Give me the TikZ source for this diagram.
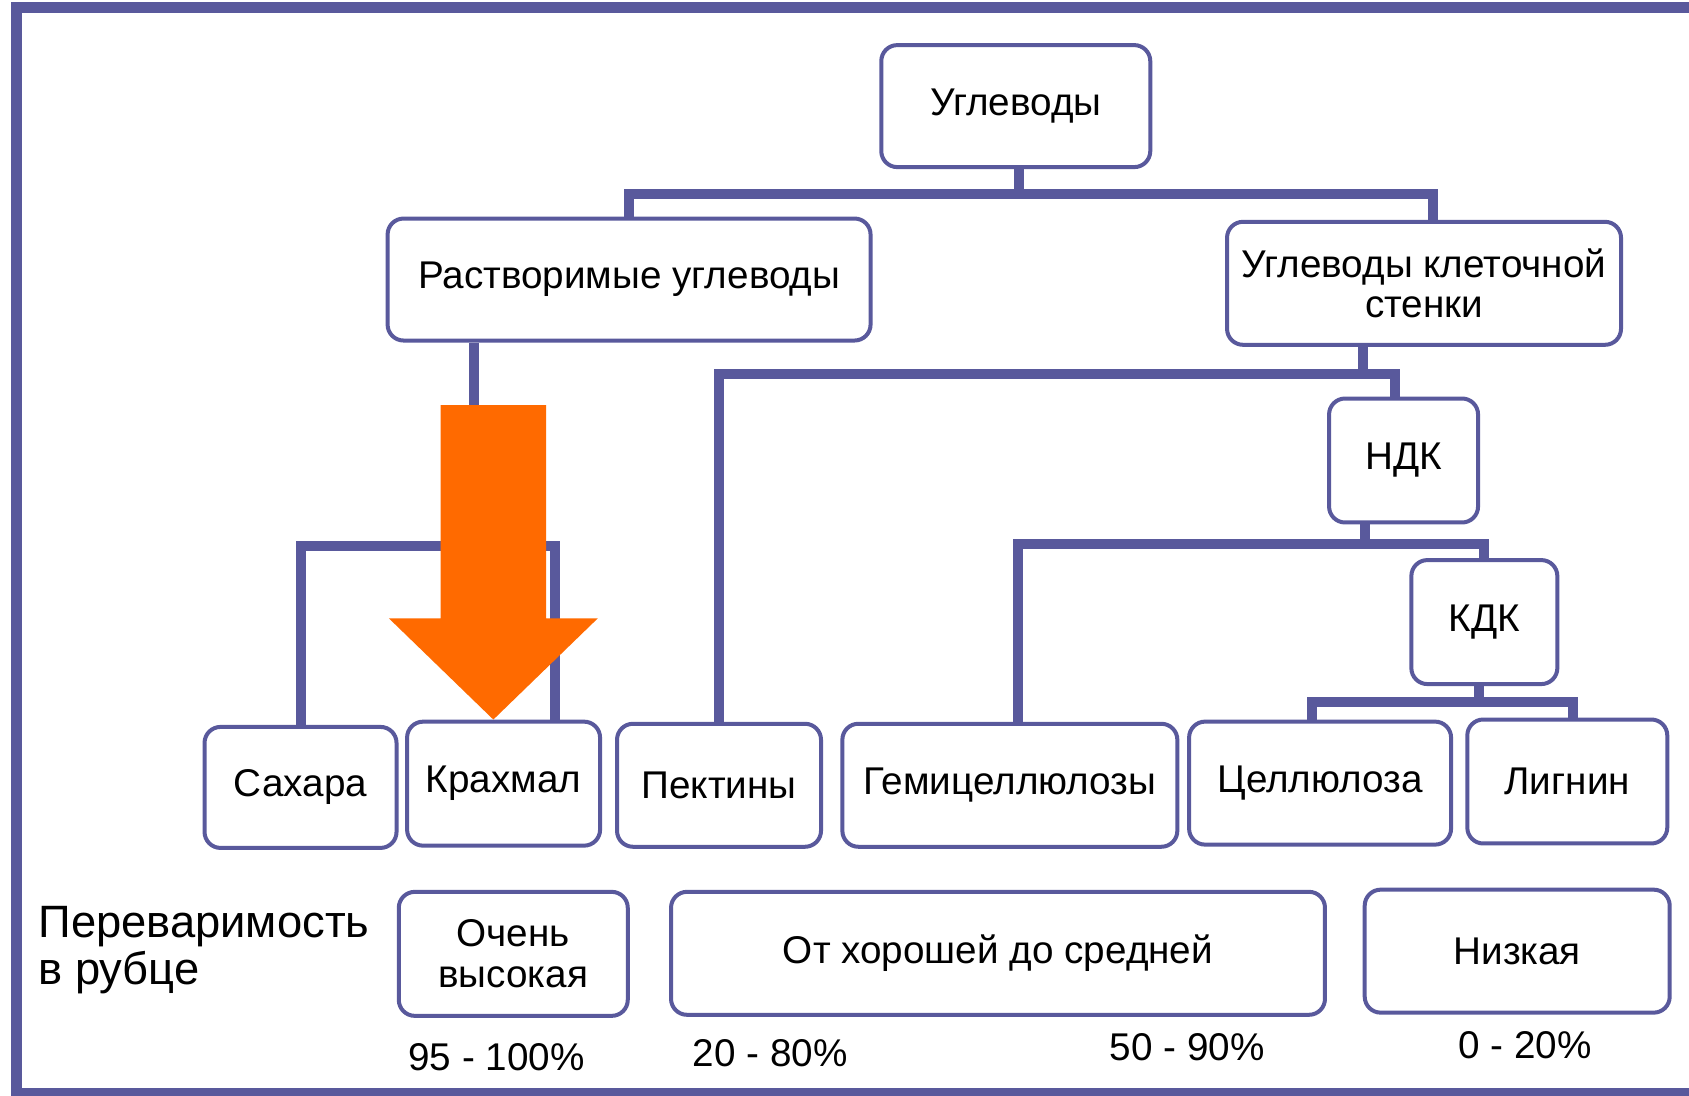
\documentclass[tikz,border=0pt]{standalone}
\usepackage{fontspec}
\setmainfont{Liberation Sans}
\definecolor{frame}{RGB}{89,89,156}
\definecolor{orangearrow}{RGB}{255,106,0}

\begin{document}
\begin{tikzpicture}[% styles used in image code
    x = 0.10772mm, y = -0.10772mm,
  box/.style = {draw=frame, line width=0.4mm, rounded corners=1.6mm,
                fill=white, inner sep=0pt, align=center,
                font=\fontsize{11}{11.5}\selectfont},
 link/.style = {draw=frame, line width=1mm},
 note/.style = {inner sep=0pt, font=\fontsize{11}{12}\selectfont}
                    ]
	% page and frame
	\useasboundingbox[fill=white] (0,0) rectangle (1568,1017);
	\draw[frame, line width=1.1mm] (1568,7.4) -- (14.9,7.4) -- (14.9,1015.6) -- (1568,1015.6);

	% tree boxes
	\node[box, minimum width=26.9mm, minimum height=12.2mm] (carb)  at (943,98.5)   {Углеводы};
	\node[box, minimum width=48.3mm, minimum height=12.2mm] (sol)   at (584,259.5)  {Растворимые углеводы};
	\node[box, minimum width=39.4mm, minimum height=12.3mm] (cell)  at (1322,263)   {Углеводы клеточной\\стенки};
	\node[box, minimum width=14.9mm, minimum height=12.4mm] (ndf)   at (1303,427.5) {НДК};
	\node[box, minimum width=14.6mm, minimum height=12.4mm] (adf)   at (1378,577.5) {КДК};
	\node[box, minimum width=19.2mm, minimum height=12.1mm] (sug)   at (279,731)    {Сахара};
	\node[box, minimum width=19.3mm, minimum height=12.4mm] (starch) at (467.5,727.5) {Крахмал};
	\node[box, minimum width=20.4mm, minimum height=12.3mm] (pect)  at (667.5,729)  {Пектины};
	\node[box, minimum width=33.5mm, minimum height=12.3mm] (hemi)  at (937.5,729)  {Гемицеллюлозы};
	\node[box, minimum width=26.2mm, minimum height=12.3mm] (cellu) at (1225.5,727) {Целлюлоза};
	\node[box, minimum width=20.0mm, minimum height=12.4mm] (lig)   at (1455,725.5) {Лигнин};

	% digestibility row
	\node[note, align=left, anchor=west, font=\fontsize{12.9}{13.5}\selectfont] (dig) at (35,882) {Переваримость\\в рубце};
	\node[box, minimum width=22.9mm, minimum height=12.4mm] (high) at (476.5,885.5) {Очень\\высокая};
	\node[box, minimum width=65.4mm, minimum height=12.3mm] (mid)  at (926.5,885)   {От хорошей до средней};
	\node[box, minimum width=30.5mm, minimum height=12.3mm] (low)  at (1408.5,883)  {Низкая};
	\node[note] (p1) at (461,981)  {95 - 100\%};
	\node[note] (p2) at (715,978)  {20 - 80\%};
	\node[note] (p3) at (1102,972) {50 - 90\%};
	\node[note] (p4) at (1416,970) {0 - 20\%};

	% connectors
	\coordinate (j1) at (946,180);
	\coordinate (j2) at (1265,347);
	\coordinate (j3) at (1267,505);
	\coordinate (j4) at (1373,652);
	\coordinate (j5) at (440,507);
	\coordinate (j6) at (515,507);
	\draw[link] (carb.south -| j1) -- (j1);
	\draw[link] (sol.north) |- (j1) -| ([xshift=0.86mm]cell.north);
	\draw[link] (cell.south -| j2) -- (j2);
	\draw[link] (pect.north) |- (j2) -| ([xshift=-0.86mm]ndf.north);
	\draw[link] (ndf.south -| j3) -- (j3);
	\draw[link] ([xshift=0.81mm]hemi.north) |- (j3) -| (adf.north);
	\draw[link] (adf.south -| j4) -- (j4);
	\draw[link] ([xshift=-0.81mm]cellu.north) |- (j4) -| ([xshift=0.54mm]lig.north);
	\draw[link] (sol.south -| j5) -- (j5);
	\draw[link] (sug.north) |- (j6) -- (j6 |- starch.north);

	% big orange arrow
	\fill[orangearrow] (409,376) -- (507,376) -- (507,574) -- (555,574)
	      -- (458,668) -- (361,574) -- (409,574) -- cycle;
\end{tikzpicture}
\end{document}
